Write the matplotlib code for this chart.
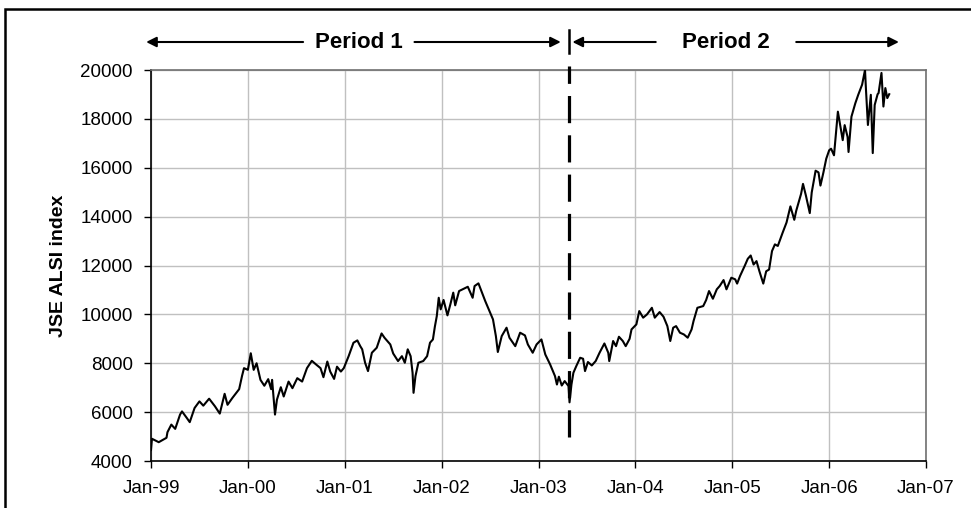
import matplotlib.pyplot as plt
from matplotlib.patches import Rectangle

plt.rcParams['font.family'] = ['Liberation Sans', 'DejaVu Sans']

# JSE ALSI index (decimal year, index level)
years = [
    1999.00, 1999.01, 1999.08, 1999.16, 1999.17, 1999.21, 1999.25, 1999.30, 1999.32, 1999.37,
    1999.40, 1999.45, 1999.50, 1999.54, 1999.60, 1999.66, 1999.71, 1999.76, 1999.79, 1999.84,
    1999.91, 1999.94, 1999.96, 2000.00, 2000.03, 2000.06, 2000.09, 2000.13, 2000.17, 2000.21,
    2000.24, 2000.25, 2000.28, 2000.30, 2000.34, 2000.37, 2000.42, 2000.46, 2000.51, 2000.56,
    2000.61, 2000.66, 2000.71, 2000.75, 2000.78, 2000.82, 2000.85, 2000.89, 2000.92, 2000.96,
    2000.99, 2001.04, 2001.09, 2001.13, 2001.16, 2001.18, 2001.21, 2001.24, 2001.28, 2001.33,
    2001.38, 2001.41, 2001.47, 2001.50, 2001.55, 2001.59, 2001.62, 2001.65, 2001.68, 2001.70,
    2001.71, 2001.73, 2001.76, 2001.81, 2001.85, 2001.88, 2001.91, 2001.93, 2001.95, 2001.97,
    2001.99, 2002.02, 2002.06, 2002.09, 2002.12, 2002.14, 2002.18, 2002.23, 2002.27, 2002.32,
    2002.34, 2002.38, 2002.41, 2002.45, 2002.50, 2002.53, 2002.56, 2002.58, 2002.62, 2002.67,
    2002.70, 2002.76, 2002.81, 2002.86, 2002.89, 2002.94, 2002.98, 2003.03, 2003.07, 2003.12,
    2003.17, 2003.19, 2003.21, 2003.24, 2003.27, 2003.31, 2003.32, 2003.34, 2003.36, 2003.39,
    2003.43, 2003.46, 2003.48, 2003.51, 2003.55, 2003.59, 2003.63, 2003.68, 2003.72, 2003.73,
    2003.77, 2003.80, 2003.83, 2003.87, 2003.90, 2003.94, 2003.96, 2004.01, 2004.04, 2004.08,
    2004.12, 2004.17, 2004.20, 2004.25, 2004.29, 2004.33, 2004.36, 2004.39, 2004.42, 2004.46,
    2004.50, 2004.54, 2004.58, 2004.60, 2004.64, 2004.70, 2004.73, 2004.76, 2004.80, 2004.84,
    2004.87, 2004.91, 2004.94, 2004.99, 2005.03, 2005.05, 2005.08, 2005.13, 2005.16, 2005.19,
    2005.22, 2005.25, 2005.28, 2005.32, 2005.35, 2005.38, 2005.41, 2005.44, 2005.47, 2005.52,
    2005.56, 2005.60, 2005.64, 2005.66, 2005.71, 2005.73, 2005.76, 2005.80, 2005.82, 2005.86,
    2005.89, 2005.91, 2005.94, 2005.97, 2006.00, 2006.02, 2006.05, 2006.09, 2006.12, 2006.14,
    2006.16, 2006.19, 2006.20, 2006.23, 2006.27, 2006.30, 2006.34, 2006.37, 2006.38, 2006.40,
    2006.42, 2006.43, 2006.45, 2006.47, 2006.50, 2006.51, 2006.54, 2006.56, 2006.58, 2006.60,
    2006.62,
]
alsi = [
    4450, 4910, 4770, 4950, 5180, 5490, 5315, 5900, 6030, 5760,
    5590, 6170, 6440, 6265, 6550, 6240, 5940, 6750, 6300, 6580,
    6940, 7485, 7800, 7730, 8410, 7730, 8000, 7320, 7080, 7350,
    6940, 7320, 5900, 6510, 7020, 6640, 7250, 6980, 7390, 7250,
    7800, 8100, 7930, 7800, 7430, 8070, 7660, 7360, 7860, 7660,
    7800, 8290, 8840, 8935, 8700, 8570, 8020, 7680, 8430, 8635,
    9220, 9045, 8770, 8400, 8090, 8290, 8020, 8570, 8290, 7610,
    6790, 7475, 8020, 8090, 8290, 8840, 8975, 9495, 9930, 10680,
    10205, 10590, 9960, 10410, 10890, 10370, 10955, 11050, 11130, 10680,
    11160, 11270, 10955, 10545, 10070, 9795, 9110, 8460, 9110, 9455,
    9045, 8700, 9250, 9140, 8770, 8430, 8770, 8975, 8360, 7950,
    7475, 7130, 7450, 7090, 7270, 7065, 6400, 7130, 7610, 7885,
    8225, 8185, 7680, 8050, 7910, 8090, 8430, 8810, 8430, 8090,
    8910, 8700, 9085, 8910, 8700, 9000, 9385, 9590, 10135, 9865,
    10000, 10270, 9865, 10095, 9905, 9520, 8910, 9455, 9520, 9250,
    9180, 9045, 9385, 9725, 10270, 10340, 10585, 10955, 10640, 11025,
    11160, 11405, 11025, 11500, 11435, 11260, 11570, 12000, 12275, 12410,
    12040, 12180, 11765, 11260, 11765, 11835, 12590, 12865, 12800, 13345,
    13760, 14420, 13870, 14240, 14930, 15340, 14860, 14145, 14990, 15880,
    15810, 15270, 15795, 16370, 16715, 16780, 16510, 18295, 17610, 17130,
    17745, 17265, 16645, 18090, 18640, 18985, 19400, 20000, 19195, 17750,
    18570, 18985, 16600, 18570, 19010, 19055, 19880, 18505, 19260, 18850,
    19010,
]

tick_years = [1999, 2000, 2001, 2002, 2003, 2004, 2005, 2006, 2007]
tick_labels = ['Jan-99', 'Jan-00', 'Jan-01', 'Jan-02', 'Jan-03',
               'Jan-04', 'Jan-05', 'Jan-06', 'Jan-07']
y_ticks = [4000, 6000, 8000, 10000, 12000, 14000, 16000, 18000, 20000]

split_year = 2003.31  # break between the two periods

fig = plt.figure(figsize=(9.71, 5.08), dpi=100)
ax = fig.add_axes([0.1555, 0.0925, 0.7982, 0.7697])

ax.plot(years, alsi, color='black', lw=1.5, zorder=3)

ax.set_xlim(1999, 2007)
ax.set_ylim(4000, 20000)
ax.set_xticks(tick_years)
ax.set_xticklabels(tick_labels)
ax.set_yticks(y_ticks)
ax.tick_params(axis='both', direction='out', length=5, width=1,
               labelsize=13.5, colors='black')
ax.tick_params(axis='y', pad=8)
ax.tick_params(axis='x', pad=9)
ax.grid(True, color='#c0c0c0', lw=1)
ax.set_axisbelow(True)
for side in ['left', 'bottom']:
    ax.spines[side].set_color('black')
    ax.spines[side].set_linewidth(1.2)
for side in ['top', 'right']:
    ax.spines[side].set_color('#707070')
    ax.spines[side].set_linewidth(1.2)

ax.set_ylabel('JSE ALSI index', fontsize=14, fontweight='bold', labelpad=10)

# dashed split line
ax.plot([split_year, split_year], [5000, 20150], color='black', lw=2.3,
        dashes=(8.5, 3.8), clip_on=False, zorder=4)

# period arrows above the plot
arrow_y = 1.0716
aprops = dict(arrowstyle='-|>', color='black', lw=1.5,
              mutation_scale=15, shrinkA=0, shrinkB=0)
trans = ax.get_xaxis_transform()
ax.annotate('', xy=(1998.95, arrow_y), xytext=(2000.57, arrow_y),
            xycoords=trans, textcoords=trans, arrowprops=aprops)
ax.annotate('', xy=(2003.23, arrow_y), xytext=(2001.72, arrow_y),
            xycoords=trans, textcoords=trans, arrowprops=aprops)
ax.annotate('', xy=(2003.35, arrow_y), xytext=(2004.21, arrow_y),
            xycoords=trans, textcoords=trans, arrowprops=aprops)
ax.annotate('', xy=(2006.72, arrow_y), xytext=(2005.66, arrow_y),
            xycoords=trans, textcoords=trans, arrowprops=aprops)
ax.plot([split_year, split_year], [1.043, 1.102], color='black', lw=1.8,
        transform=trans, clip_on=False)
ax.text(2001.15, arrow_y, 'Period 1', transform=trans, ha='center', va='center',
        fontsize=16, fontweight='bold')
ax.text(2004.93, arrow_y, 'Period 2', transform=trans, ha='center', va='center',
        fontsize=16, fontweight='bold')

# outer chart frame
fig.patches.append(Rectangle((5 / 971, -0.1), 1.2, 1 - 9 / 508 + 0.1,
                             transform=fig.transFigure, fill=False,
                             edgecolor='black', lw=1.8))

fig.savefig('out.png', dpi=100)
